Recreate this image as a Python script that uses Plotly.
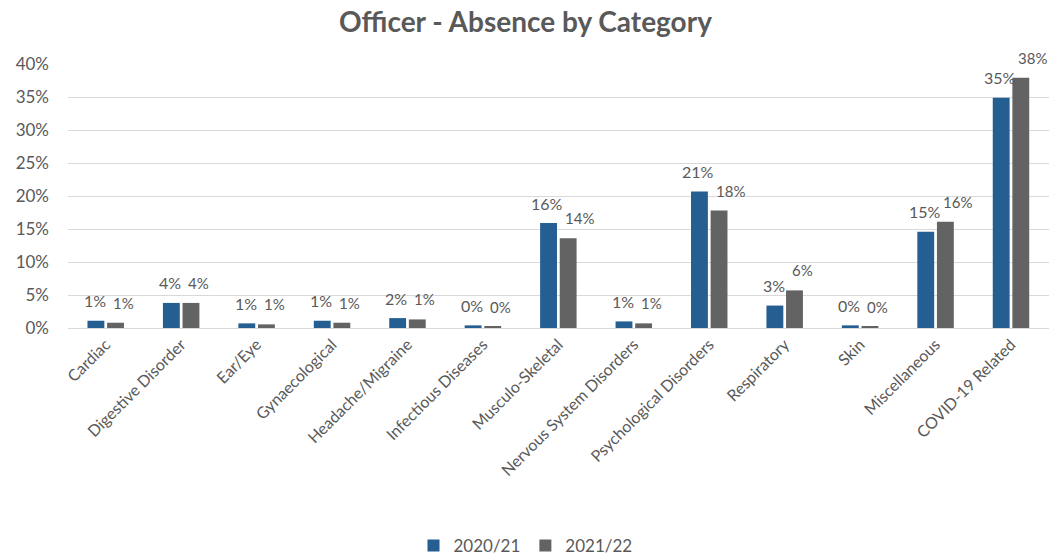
import plotly.graph_objects as go

categories = [
    "Cardiac", "Digestive Disorder", "Ear/Eye", "Gynaecological",
    "Headache/Migraine", "Infectious Diseases", "Musculo-Skeletal",
    "Nervous System Disorders", "Psychological Disorders", "Respiratory",
    "Skin", "Miscellaneous", "COVID-19 Related",
]
values_2020 = [1.1, 3.8, 0.7, 1.1, 1.5, 0.4, 15.9, 1.0, 20.7, 3.4, 0.4, 14.6, 34.9]
values_2021 = [0.8, 3.8, 0.55, 0.8, 1.3, 0.2, 13.6, 0.7, 17.8, 5.7, 0.2, 16.1, 37.9]
series_names = ["2020/21", "2021/22"]
y_ticks = [0, 5, 10, 15, 20, 25, 30, 35, 40]

BLUE = "#255E91"
GREY = "#636363"
TEXT = "#595959"
FONT = "Lato, 'Open Sans', sans-serif"

fig = go.Figure()
for name, vals, col in [(series_names[0], values_2020, BLUE),
                        (series_names[1], values_2021, GREY)]:
    fig.add_trace(go.Bar(
        x=categories, y=vals, name=name, marker_color=col,
        marker_line_width=0, hoverinfo="skip",
    ))

# value labels above each bar
for cat, v1, v2 in zip(categories, values_2020, values_2021):
    fig.add_annotation(x=cat, y=v1, text=f"{round(v1):.0f}%", showarrow=False,
                       xref="x", yref="y", xshift=-11, yshift=20,
                       xanchor="center", yanchor="middle",
                       font=dict(size=16, color=TEXT, family=FONT))
    fig.add_annotation(x=cat, y=v2, text=f"{round(v2):.0f}%", showarrow=False,
                       xref="x", yref="y", xshift=5, yshift=20,
                       xanchor="left", yanchor="middle",
                       font=dict(size=15, color=TEXT, family=FONT))

fig.update_layout(
    width=1051, height=556,
    margin=dict(l=68, r=2, t=64, b=228),
    paper_bgcolor="white", plot_bgcolor="white",
    barmode="group", bargap=0.48, bargroupgap=0.14,
    title=dict(text="<b>Officer - Absence by Category</b>", x=0.5, xref="container",
               xanchor="center", y=1 - 22 / 556, yanchor="middle",
               font=dict(size=28, color=TEXT, family=FONT)),
    font=dict(family=FONT, color=TEXT),
    legend=dict(orientation="h", x=0.5, xref="container", xanchor="center",
                y=0.018, yref="container", yanchor="middle",
                font=dict(size=17, color=TEXT, family=FONT), traceorder="normal",
                itemwidth=30),
    showlegend=True,
)
fig.update_yaxes(
    range=[0, 40], tickvals=y_ticks, ticktext=[f"{t}%" for t in y_ticks],
    showgrid=True, gridcolor="#D9D9D9", gridwidth=1, zeroline=False,
    showline=False, ticks="", tickfont=dict(size=17, color=TEXT, family=FONT),
    ticklabelstandoff=18,
)
fig.update_xaxes(
    tickangle=-45, showline=True, linecolor="#D9D9D9", linewidth=1,
    ticks="", tickfont=dict(size=16, color=TEXT, family=FONT),
)

fig.write_html("out.html")
